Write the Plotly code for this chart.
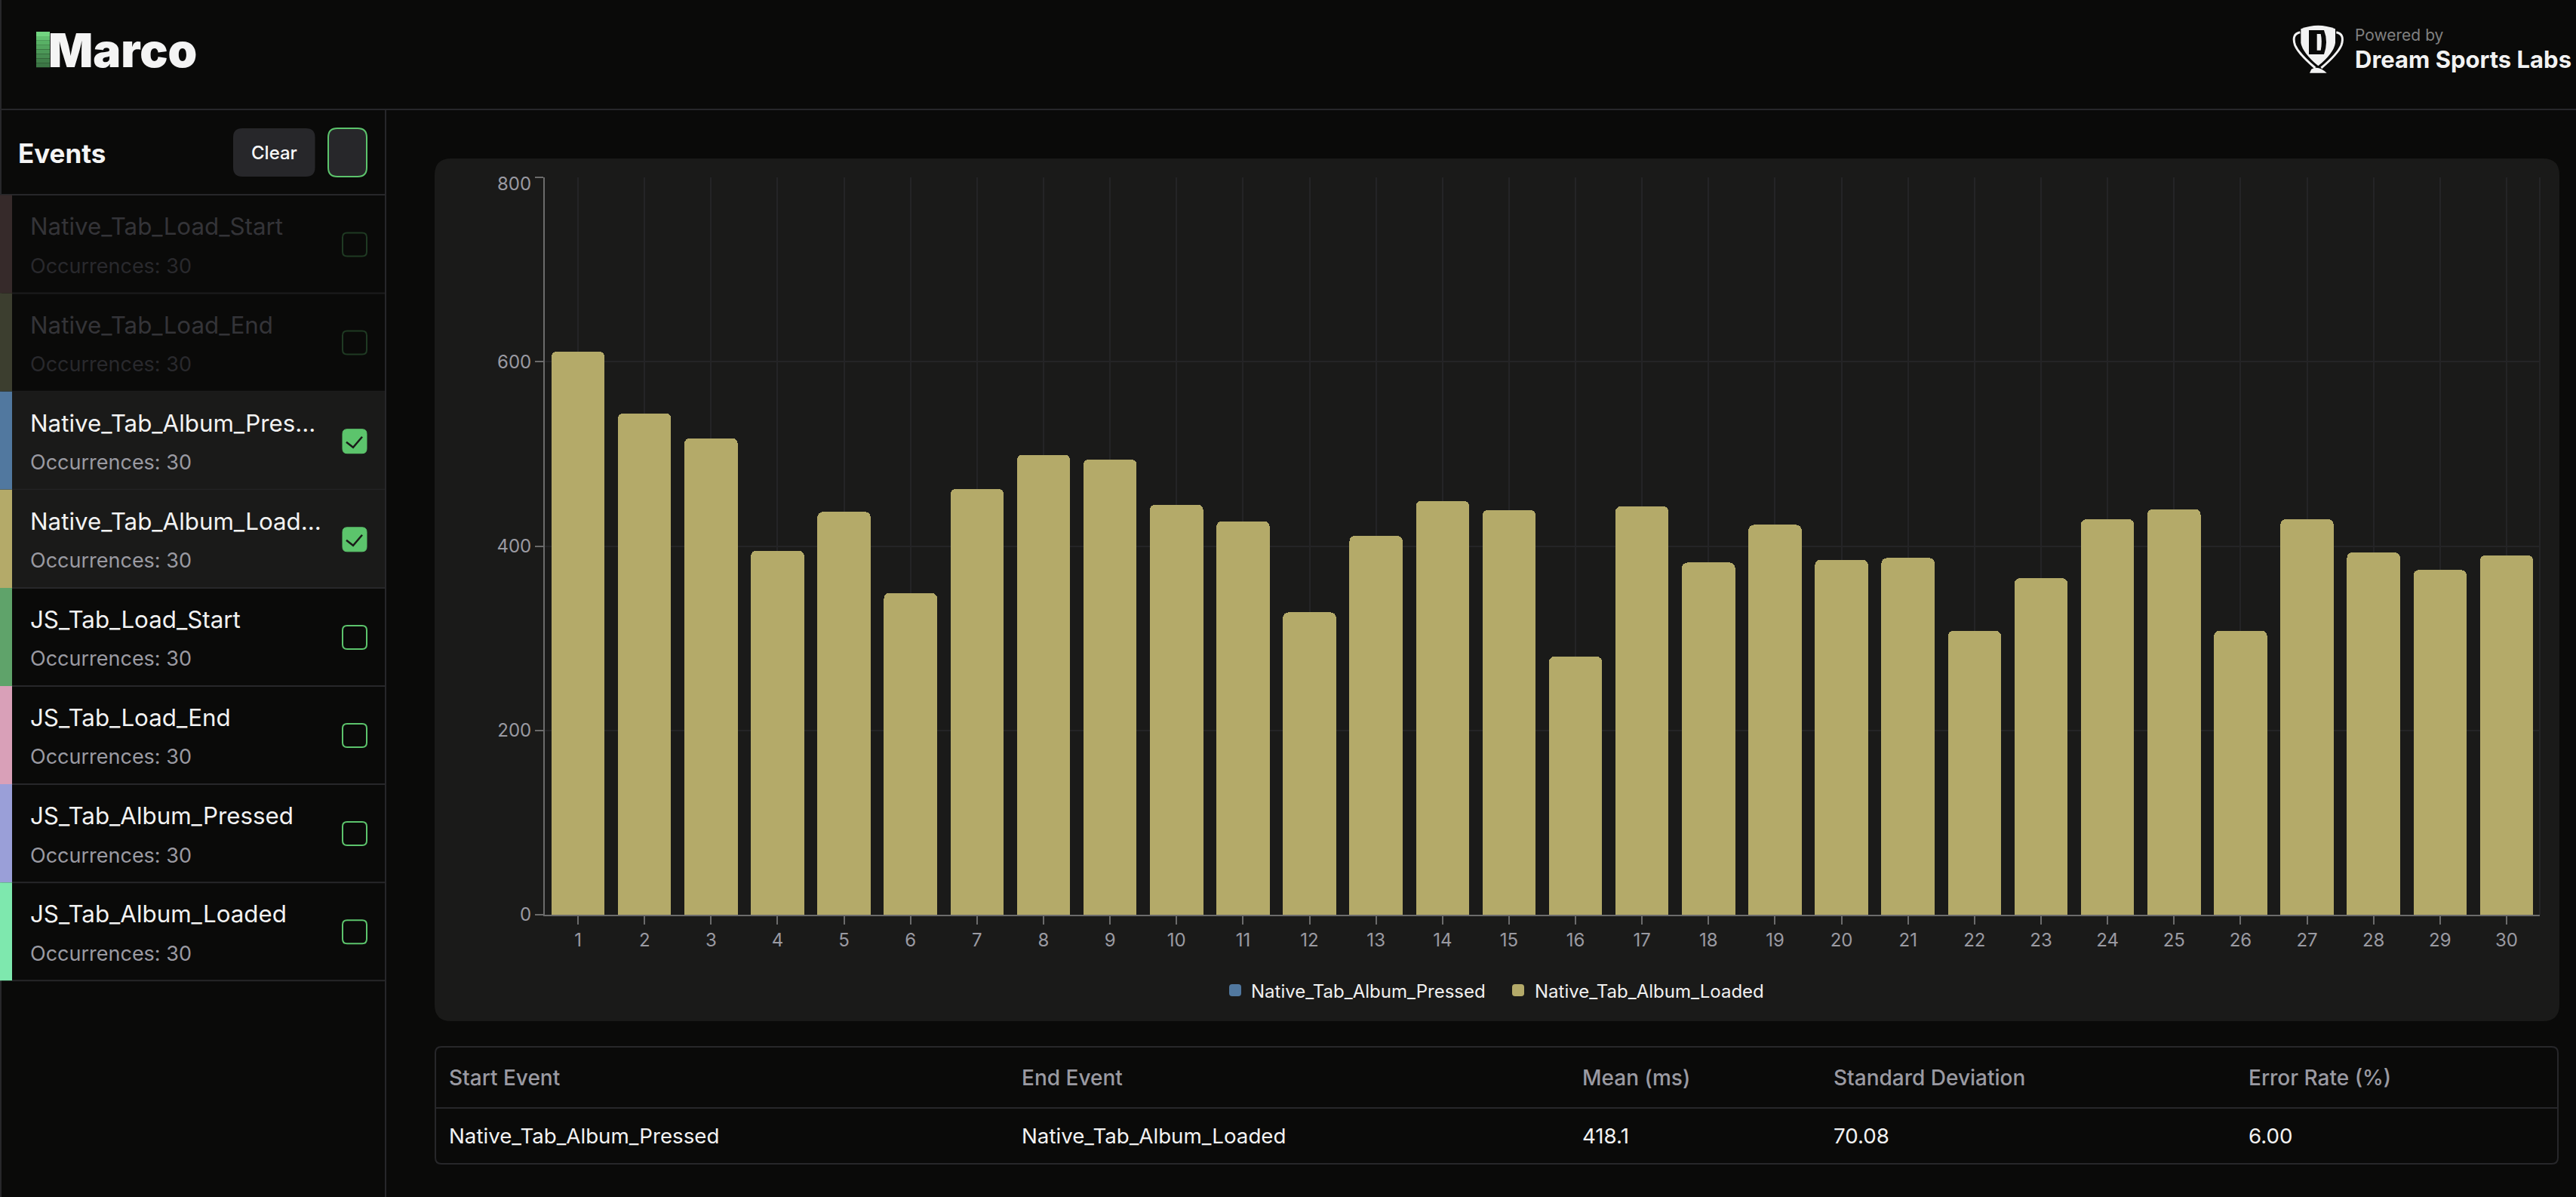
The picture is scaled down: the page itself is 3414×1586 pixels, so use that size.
import plotly.graph_objects as go

# chart values
run_numbers = [str(i) for i in range(1, 31)]
loaded_ms = [611, 544, 517, 395, 437, 349, 462, 499, 494, 445,
             427, 328, 411, 449, 439, 280, 443, 382, 423, 385,
             387, 308, 365, 429, 440, 308, 429, 393, 374, 390]
pressed_ms = [0] * 30
y_tick_vals = [0, 200, 400, 600, 800]
y_tick_text = ['0', '200', '400', '600', '']

# sidebar and table text
event_names = ['Native_Tab_Load_Start', 'Native_Tab_Load_End', 'Native_Tab_Album_Pres...',
               'Native_Tab_Album_Load...', 'JS_Tab_Load_Start', 'JS_Tab_Load_End',
               'JS_Tab_Album_Pressed', 'JS_Tab_Album_Loaded']
event_counts = [30] * 8
table_headers = ['Start Event', 'End Event', 'Mean (ms)', 'Standard Deviation', 'Error Rate (%)']
table_row = ['Native_Tab_Album_Pressed', 'Native_Tab_Album_Loaded', '418.1', '70.08', '6.00']

W, H = 3414, 1586
FONT = 'Inter'
BG = '#0a0a09'
PANEL = '#1a1a19'
LINE = '#27272a'
GREEN = '#5cc46c'
BLUE = '#51789f'
OLIVE = '#b4aa69'
strip_colors = ['#362a2a', '#3c3e2f', BLUE, OLIVE, '#5fa36a', '#d9a0b8', '#9a9fd8', '#7ee8ae']
logo_greens = ['#72d480', '#62c070', '#58b065', '#52a45e', '#4c9858', '#468c51', '#40804a', '#3c7645']


def fx(x):
    return x / W


def fy(y):
    return 1 - y / H


def rrect(x0, y0, x1, y1, r):
    return (f'M{fx(x0 + r)},{fy(y0)} L{fx(x1 - r)},{fy(y0)} Q{fx(x1)},{fy(y0)} {fx(x1)},{fy(y0 + r)} '
            f'L{fx(x1)},{fy(y1 - r)} Q{fx(x1)},{fy(y1)} {fx(x1 - r)},{fy(y1)} '
            f'L{fx(x0 + r)},{fy(y1)} Q{fx(x0)},{fy(y1)} {fx(x0)},{fy(y1 - r)} '
            f'L{fx(x0)},{fy(y0 + r)} Q{fx(x0)},{fy(y0)} {fx(x0 + r)},{fy(y0)} Z')


def zoomed_path(cmds):
    # path points taken from the 3x crop of the logo
    out = []
    for c, pts in cmds:
        out.append(c + ' '.join(f'{fx(2900 + a / 3)},{fy(b / 3)}' for a, b in pts))
    return ' '.join(out) + ' Z'


shapes = []
labels = []


def box(x0, y0, x1, y1, r=0, fill=None, stroke=None, width=0, layer='below'):
    s = dict(type='path', xref='paper', yref='paper', path=rrect(x0, y0, x1, y1, r), layer=layer,
             line=dict(color=stroke or 'rgba(0,0,0,0)', width=width))
    if fill:
        s['fillcolor'] = fill
    shapes.append(s)


def rule(x0, y0, x1, y1, color=LINE, width=2):
    shapes.append(dict(type='line', xref='paper', yref='paper', x0=fx(x0), y0=fy(y0), x1=fx(x1), y1=fy(y1),
                       layer='below', line=dict(color=color, width=width)))


def text(x, y, s, size, color, weight=400, anchor='left'):
    labels.append(dict(xref='paper', yref='paper', x=fx(x), y=fy(y), text=s, showarrow=False,
                       xanchor=anchor, yanchor='middle', borderpad=0, borderwidth=0,
                       font=dict(family=FONT, size=size, color=color, weight=weight)))


# page frame
rule(1, 0, 1, H)
rule(0, 145, W, 145)
rule(511, 145, 511, H)
rule(0, 258, 511, 258)

# header logos
for i, c in enumerate(logo_greens):
    box(48, 42 + i * 5.9, 66, 42 + (i + 1) * 5.9, fill=c)
text(64, 67, 'Marco', 62, '#f4f4f4', 900)
shapes.append(dict(type='path', xref='paper', yref='paper', layer='below', fillcolor='#f2f2f2',
                   line=dict(width=0), path=zoomed_path([('M', [(448, 115)]), ('Q', [(517, 88), (585, 115)]),
                                                         ('L', [(585, 170)]), ('Q', [(580, 210), (517, 262)]),
                                                         ('Q', [(455, 210), (448, 170)])])))
for side in (0, 1):
    m = (lambda a: a) if side == 0 else (lambda a: 1034 - a)
    p = [('M', [(m(445), 128)]), ('Q', [(m(410), 135), (m(425), 180)]), ('Q', [(m(440), 215), (m(505), 270)])]
    shapes.append(dict(type='path', xref='paper', yref='paper', layer='below',
                       line=dict(color='#f2f2f2', width=3),
                       path=zoomed_path(p)[:-2]))
shapes.append(dict(type='path', xref='paper', yref='paper', layer='below', fillcolor='#f2f2f2', line=dict(width=0),
                   path=zoomed_path([('M', [(483, 290)]), ('L', [(551, 290), (545, 275)]),
                                     ('Q', [(517, 258), (490, 275)])])))
shapes.append(dict(type='path', xref='paper', yref='paper', layer='below', fillcolor=BG, line=dict(width=0),
                   path=zoomed_path([('M', [(480, 120)]), ('L', [(540, 120)]), ('Q', [(558, 165), (540, 216)]),
                                     ('L', [(480, 216), (490, 205), (490, 130)])])))
shapes.append(dict(type='path', xref='paper', yref='paper', layer='below', fillcolor='#f2f2f2', line=dict(width=0),
                   path=zoomed_path([('M', [(512, 135)]), ('L', [(527, 135)]), ('Q', [(534, 165), (527, 200)]),
                                     ('L', [(512, 200)])])))
text(3121, 46, 'Powered by', 21, '#808080')
text(3121, 78, 'Dream Sports Labs', 31, '#f2f2f2', 700)

# sidebar head
text(24, 203, 'Events', 35, '#f4f4f4', 700)
box(309, 170, 417.5, 234, 12, fill='#27272a')
text(363, 202, 'Clear', 24, '#fafafa', 500, 'center')
box(435, 170, 486, 234, 12, fill='#27272a', stroke=GREEN, width=2)

# sidebar rows
row_h = 130.1
for i, name in enumerate(event_names):
    top = 258.5 + i * row_h
    dim = i < 2
    selected = i in (2, 3)
    if selected:
        box(0, top, 510, top + row_h, fill=PANEL)
    box(0, top, 16, top + row_h, fill=strip_colors[i])
    rule(16, top + row_h, 510, top + row_h, '#1c1c1e' if dim else LINE)
    text(39.5, top + 42, name, 31.3, '#343438' if dim else '#f2f2f2')
    text(39.5, top + 94, f'Occurrences: {event_counts[i]}', 27, '#29292d' if dim else '#9a9aa2')
    if selected:
        box(454, top + 50, 486, top + 82, 6, fill=GREEN, stroke=GREEN, width=1)
        shapes.append(dict(type='path', xref='paper', yref='paper', layer='below',
                           line=dict(color='#1a1a19', width=2.5),
                           path=(f'M{fx(459)},{fy(top + 67)} L{fx(468)},{fy(top + 74)} '
                                 f'L{fx(480)},{fy(top + 60)}')))
    else:
        box(454, top + 50, 486, top + 81, 6, stroke='#1f3a23' if dim else GREEN, width=2)

# chart panel and table frame
box(576, 210, 3392, 1353, 22, fill=PANEL)
rule(3366, 235, 3366, 1212, '#242426', 2)
box(577, 1387, 3390, 1542, 8, stroke=LINE, width=2)
rule(577, 1468, 3390, 1468)
col_x = [594.5, 1354, 2097, 2430, 2980]
for x, head, val in zip(col_x, table_headers, table_row):
    text(x, 1428, head, 28, '#9a9aa2', 500)
    text(x, 1505, val, 27.7, '#f2f2f2')

# legend swatches are larger and rounder than plotly's, cover them
box(1629, 1304, 1645, 1320, 4, fill=BLUE, layer='above')
box(2004, 1304, 2020, 1320, 4, fill=OLIVE, layer='above')

# top y label sits inside the chart area, so it is placed by hand
labels.append(dict(xref='paper', yref='y', x=fx(705), y=800, yshift=-9, text='800', showarrow=False,
                   xanchor='right', yanchor='middle', borderpad=0,
                   font=dict(family=FONT, size=24, color='#9a9aa2')))

fig = go.Figure()
fig.add_trace(go.Bar(x=run_numbers, y=pressed_ms, name='Native_Tab_Album_Pressed',
                     marker=dict(color=BLUE, line=dict(width=0))))
fig.add_trace(go.Bar(x=run_numbers, y=loaded_ms, name='Native_Tab_Album_Loaded',
                     marker=dict(color=OLIVE, line=dict(width=0))))

fig.update_layout(
    width=W, height=H, autosize=False,
    margin=dict(l=0, r=0, t=0, b=0, autoexpand=False),
    paper_bgcolor=BG, plot_bgcolor='rgba(0,0,0,0)',
    barmode='stack', bargap=0.2, barcornerradius=7,
    font=dict(family=FONT, size=24, color='#9a9aa2'),
    shapes=shapes, annotations=labels,
    legend=dict(orientation='h', x=fx(1618), y=fy(1313), xanchor='left', yanchor='middle',
                traceorder='normal', entrywidth=331, entrywidthmode='pixels',
                font=dict(family=FONT, size=24, color='#f0f0f0'), bgcolor='rgba(0,0,0,0)',
                itemclick=False, itemdoubleclick=False),
    xaxis=dict(type='category', domain=[fx(722), fx(3366)], range=[-0.5, 29.5], tickmode='linear', dtick=1,
               showgrid=True, gridcolor='#242426', gridwidth=2, zeroline=False,
               showline=True, linecolor='#6b6b6b', linewidth=2,
               ticks='outside', ticklen=11, tickwidth=2, tickcolor='#6b6b6b',
               tickfont=dict(family=FONT, size=24, color='#9a9aa2')),
    yaxis=dict(domain=[fy(1212), fy(235)], range=[0, 800], tickmode='array',
               tickvals=y_tick_vals, ticktext=y_tick_text,
               showgrid=True, gridcolor='#242426', gridwidth=2, zeroline=False,
               showline=True, linecolor='#6b6b6b', linewidth=2,
               ticks='outside', ticklen=11, tickwidth=2, tickcolor='#6b6b6b',
               tickfont=dict(family=FONT, size=24, color='#9a9aa2')),
)

fig.write_html('out.html', config=dict(displayModeBar=False),
               post_script="document.body.style.margin='0';document.body.style.overflow='hidden';"
                           f"document.body.style.background='{BG}';")
